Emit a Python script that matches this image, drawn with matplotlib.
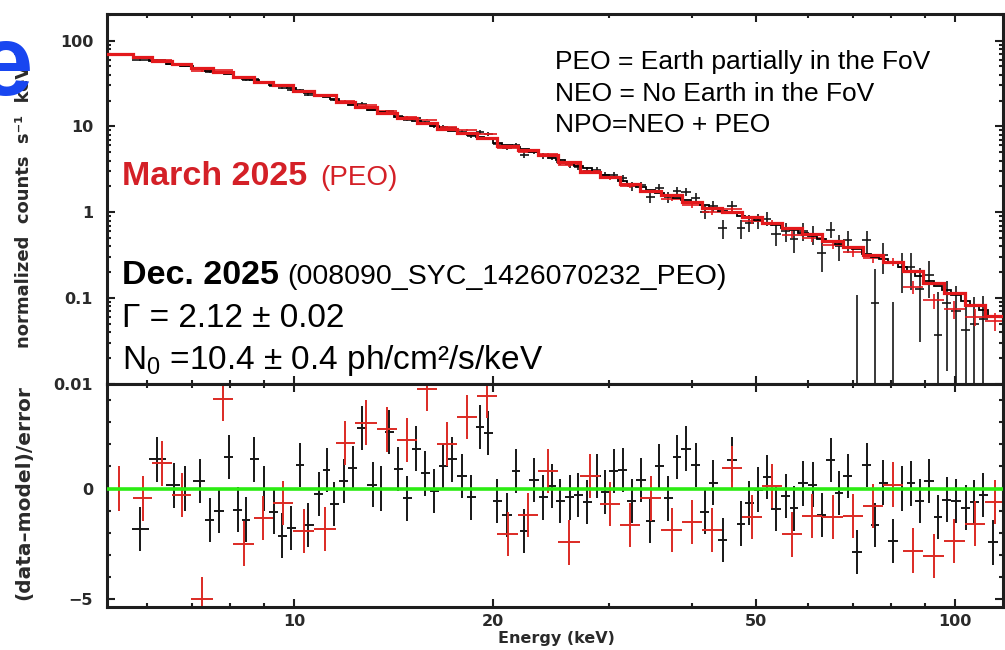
import numpy as np
import matplotlib.pyplot as plt
from matplotlib.ticker import FixedLocator, LogLocator, MultipleLocator, FuncFormatter, NullFormatter

plt.rcParams['font.family'] = ['Liberation Sans', 'DejaVu Sans']
plt.rcParams['mathtext.default'] = 'regular'

# --- Dec. 2025 spectrum (black): bin energies (keV), folded model, residuals, relative errors
black_energy = [5.85, 6.21, 6.59, 6.84, 7.21, 7.46, 7.70, 7.97, 8.23, 8.46,
                8.70, 9.01, 9.33, 9.59, 9.90, 10.21, 10.50, 10.91, 11.22, 11.49,
                11.90, 12.28, 12.67, 13.17, 13.54, 13.92, 14.37, 14.83, 15.30, 15.79,
                16.28, 16.81, 17.34, 17.96, 18.53, 19.12, 19.66, 20.28, 21.00, 21.68,
                22.28, 23.07, 23.81, 24.57, 25.26, 26.16, 26.90, 27.75, 28.73, 29.54,
                30.48, 31.45, 32.45, 33.50, 34.56, 35.67, 36.80, 37.97, 39.17, 40.56,
                41.86, 43.04, 44.57, 45.98, 47.46, 48.80, 50.35, 51.95, 53.60, 55.50,
                57.07, 58.89, 60.97, 62.91, 64.92, 66.76, 68.88, 71.08, 73.61, 75.68,
                77.85, 80.60, 83.16, 85.80, 88.51, 91.35, 94.25, 97.25, 100.35, 103.9,
                106.8, 110.3, 114.2]
black_model = [62.5, 57.6, 53.6, 50.9, 46.6, 44.5, 42.7, 40.4, 38.0, 36.1,
               34.4, 32.1, 30.7, 29.6, 27.9, 25.8, 24.7, 23.2, 22.1, 20.7,
               18.9, 17.8, 16.8, 15.5, 14.6, 13.8, 12.9, 12.2, 11.5, 10.8,
               10.1, 9.45, 8.91, 8.39, 7.95, 7.52, 7.12, 6.38, 6.10, 5.70,
               5.40, 5.01, 4.66, 4.32, 4.05, 3.73, 3.48, 3.24, 2.95, 2.74,
               2.52, 2.31, 2.13, 1.97, 1.83, 1.70, 1.59, 1.48, 1.38, 1.28,
               1.20, 1.125, 1.047, 0.979, 0.915, 0.862, 0.806, 0.758, 0.707, 0.657,
               0.618, 0.575, 0.530, 0.493, 0.458, 0.431, 0.398, 0.369, 0.331, 0.305,
               0.282, 0.254, 0.228, 0.204, 0.180, 0.157, 0.139, 0.123, 0.108, 0.0938,
               0.0824, 0.0720, 0.0626]
black_resid = [-1.83, 1.31, 0.14, 0.0, 0.35, -1.43, -1.0, 1.41, -0.95, -1.4,
               1.31, 0.0, -1.05, -2.12, -1.77, 1.07, -1.65, -0.26, 0.83, -0.69,
               0.35, 0.93, 2.73, 0.18, 0.0, 2.55, 0.87, -0.45, 1.8, 0.68,
               -0.1, 1.0, 1.31, 0.57, -0.4, 2.78, 2.5, -0.56, -1.2, 0.8,
               -1.92, 0.38, -0.4, 0.1, -0.56, -0.4, -0.3, -0.6, 0.57, -0.15,
               0.8, 0.83, -0.56, 0.38, -1.46, 1.0, -0.45, 1.43, 1.8, 1.05,
               -1.05, 0.27, -2.33, 1.3, -1.58, -0.65, -0.05, 0.53, -0.93, -0.35,
               -0.9, 0.23, 0.18, -1.2, 1.28, -0.2, 0.57, -2.85, 1.05, -1.65,
               0.27, -2.37, 0.0, 0.23, -0.56, 0.35, -1.28, -0.5, -0.56, -0.86,
               -0.6, -0.3, -2.43]
black_frac = [0.022, 0.022, 0.023, 0.023, 0.024, 0.024, 0.025, 0.025, 0.026, 0.026,
              0.027, 0.027, 0.028, 0.028, 0.029, 0.029, 0.030, 0.031, 0.032, 0.033,
              0.034, 0.035, 0.036, 0.037, 0.038, 0.039, 0.040, 0.042, 0.043, 0.045,
              0.046, 0.048, 0.050, 0.052, 0.054, 0.056, 0.058, 0.060, 0.063, 0.066,
              0.068, 0.071, 0.074, 0.077, 0.080, 0.084, 0.087, 0.091, 0.095, 0.099,
              0.10, 0.105, 0.11, 0.115, 0.12, 0.125, 0.13, 0.135, 0.14, 0.145,
              0.15, 0.155, 0.16, 0.17, 0.18, 0.19, 0.20, 0.21, 0.22, 0.23,
              0.24, 0.25, 0.26, 0.27, 0.29, 0.31, 0.34, 0.38, 0.41, 0.43,
              0.45, 0.47, 0.49, 0.51, 0.53, 0.55, 0.57, 0.59, 0.61, 0.63,
              0.65, 0.68, 0.70]

# --- March 2025 spectrum (red): bin edges (keV), folded model, residuals, relative errors
red_edges = [5.18, 5.71, 6.10, 6.54, 6.99, 7.54, 8.09, 8.70, 9.29, 9.97,
             10.72, 11.57, 12.37, 13.35, 14.32, 15.35, 16.46, 17.64, 18.92, 20.28,
             21.83, 23.40, 25.08, 27.08, 29.04, 31.13, 33.38, 35.92, 38.64, 41.43,
             44.42, 47.62, 51.05, 54.73, 58.68, 62.91, 67.72, 72.60, 77.85, 83.44,
             89.45, 96.25, 103.5, 111.0, 119.0]
red_model = [69.5, 63.6, 58.1, 53.1, 47.3, 43.2, 37.8, 33.0, 30.2, 26.1,
             23.1, 19.3, 16.8, 14.3, 12.5, 10.96, 9.42, 8.37, 7.40, 5.90,
             5.26, 4.60, 3.84, 2.93, 2.58, 2.15, 1.79, 1.57, 1.31, 1.125,
             1.019, 0.874, 0.744, 0.657, 0.559, 0.467, 0.390, 0.320, 0.2605, 0.2045,
             0.152, 0.1163, 0.0835, 0.0621]
red_resid = [0.0, -0.45, 1.13, -0.3, -5.0, 4.05, -2.48, -1.32, -0.65, -1.92,
             -1.83, 2.06, 2.97, 2.66, 2.18, 4.5, 2.0, 3.23, 4.17, -2.06,
             -1.2, 0.8, -2.43, 0.57, -0.7, -1.65, -0.45, -1.88, -1.5, -1.88,
             0.93, -1.28, 0.12, -2.07, -1.25, -1.28, -1.25, -0.8, 0.18, -2.8,
             -3.05, -2.37, -1.58, -0.6]
red_frac = [0.012, 0.012, 0.012, 0.013, 0.013, 0.013, 0.014, 0.014, 0.015, 0.015,
            0.016, 0.017, 0.018, 0.019, 0.020, 0.021, 0.022, 0.024, 0.025, 0.027,
            0.029, 0.031, 0.034, 0.037, 0.040, 0.043, 0.047, 0.051, 0.055, 0.060,
            0.065, 0.070, 0.075, 0.080, 0.085, 0.090, 0.097, 0.105, 0.113, 0.12,
            0.125, 0.15, 0.17, 0.21]

W, H = 1005, 650
def px(x, y):
    return x / W, 1 - y / H

def edges_from_centres(c):
    c = np.asarray(c)
    mid = np.sqrt(c[1:] * c[:-1])
    return np.concatenate([[c[0] ** 2 / mid[0]], mid, [c[-1] ** 2 / mid[-1]]])

BLK = '#161616'
RED = '#e3191c'
AXC = '#1e1e1e'

# black arrays
bE = np.array(black_energy)
be = edges_from_centres(bE)
bxerr = [bE - be[:-1], be[1:] - bE]
bm = np.array(black_model)
bsig = bm * np.array(black_frac)
bdat = bm + np.array(black_resid) * bsig

# red arrays
re = np.array(red_edges)
rE = np.sqrt(re[:-1] * re[1:])
rxerr = [rE - re[:-1], re[1:] - rE]
rm = np.array(red_model)
rsig = rm * np.array(red_frac)
rdat = rm + np.array(red_resid) * rsig

fig = plt.figure(figsize=(W / 100, H / 100), dpi=100)
ax1 = fig.add_axes([107 / W, 1 - 384 / H, 896 / W, 370 / H])
ax2 = fig.add_axes([107 / W, 1 - 607 / H, 896 / W, 223 / H], sharex=ax1)

ax1.set_xscale('log')
ax1.set_yscale('log')
ax1.set_xlim(5.213, 118.2)
ax1.set_ylim(0.01, 204)
ax2.set_ylim(-5.34, 4.71)

# upper panel: data + folded models
ax1.errorbar(bE, bdat, yerr=bsig, xerr=bxerr, fmt='none', ecolor=BLK, elinewidth=1.2, zorder=2)
ax1.errorbar(rE, rdat, yerr=rsig, xerr=rxerr, fmt='none', ecolor=RED, elinewidth=1.2, zorder=2)
ax1.stairs(bm, be, baseline=None, color='black', lw=1.3, zorder=3)
ax1.stairs(rm, re, baseline=None, color=RED, lw=2.3, zorder=4)

# lower panel: residuals
ax2.errorbar(bE, black_resid, yerr=1, xerr=bxerr, fmt='none', ecolor=BLK, elinewidth=1.4, zorder=2)
ax2.errorbar(rE, red_resid, yerr=1, xerr=rxerr, fmt='none', ecolor='#dc2a24', elinewidth=1.4, zorder=2)
ax2.axhline(0, color='#2bec12', lw=2.6, zorder=5)

tick_font = dict(family='DejaVu Sans', weight='bold', size=11.5)
for ax in (ax1, ax2):
    for s in ax.spines.values():
        s.set_linewidth(2.2)
        s.set_color(AXC)
    ax.tick_params(which='both', direction='in', top=True, right=True, width=1.5, color=AXC)
    ax.tick_params(which='major', length=6)
    ax.tick_params(which='minor', length=3.2)
    ax.xaxis.set_major_locator(FixedLocator([10, 20, 50, 100]))
    ax.xaxis.set_minor_locator(FixedLocator([6, 7, 8, 9, 30, 40, 60, 70, 80, 90]))
    ax.xaxis.set_minor_formatter(NullFormatter())

ax1.yaxis.set_major_locator(LogLocator(base=10, numticks=10))
ax1.yaxis.set_minor_locator(LogLocator(base=10, subs=np.arange(2, 10), numticks=10))
ax1.yaxis.set_minor_formatter(NullFormatter())
ax1.yaxis.set_major_formatter(FuncFormatter(lambda v, p: f'{v:g}'))
ax1.tick_params(axis='x', labelbottom=False)
ax1.tick_params(axis='y', pad=10)

ax2.yaxis.set_major_locator(MultipleLocator(5))
ax2.yaxis.set_minor_locator(MultipleLocator(1))
ax2.yaxis.set_major_formatter(FuncFormatter(lambda v, p: f'{v:g}'.replace('-', '\u2212')))
ax2.xaxis.set_major_formatter(FuncFormatter(lambda v, p: f'{v:g}'))
ax2.tick_params(axis='y', pad=10)
ax2.tick_params(axis='x', pad=5)

for lab in ax1.get_yticklabels() + ax2.get_yticklabels() + ax2.get_xticklabels():
    lab.set_fontproperties(tick_font)
    lab.set_color('#2a2a2a')

# axis titles
fig.text(*px(24, 348), 'normalized  counts  s\u207b\u00b9  keV\u207b\u00b9', rotation=90,
         ha='center', va='bottom', color='#2a2a2a', family='DejaVu Sans', weight='bold', size=13)
fig.text(*px(24, 493), '(data\u2013model)/error', rotation=90,
         ha='center', va='center', color='#2a2a2a', family='DejaVu Sans', weight='bold', size=14.5)
fig.text(*px(556, 639), 'Energy (keV)', ha='center', va='center',
         color='#2a2a2a', family='DejaVu Sans', weight='bold', size=11.5)
fig.text(*px(33, 95), 'e', ha='right', va='baseline', color='#1846f0',
         weight='bold', size=73, zorder=10)

# annotations
fig.text(*px(555, 69), 'PEO = Earth partially in the FoV', va='baseline', size=19)
fig.text(*px(555, 101), 'NEO = No Earth in the FoV', va='baseline', size=19)
fig.text(*px(555, 132.5), 'NPO=NEO + PEO', va='baseline', size=19)

fig.text(*px(122, 185), 'March 2025', va='baseline', size=24.5, weight='bold', color='#d42027')
fig.text(*px(320, 185), '(PEO)', va='baseline', size=20, color='#d42027')
fig.text(*px(122, 284), 'Dec. 2025', va='baseline', size=24.5, weight='bold', color='black')
fig.text(*px(287, 284), '(008090_SYC_1426070232_PEO)', va='baseline', size=20.5, color='black')
fig.text(*px(122, 327), '\u0393 = 2.12 \u00b1 0.02', va='baseline', size=24)
fig.text(*px(122, 369), 'N$_0$ =10.4 \u00b1 0.4 ph/cm\u00b2/s/keV', va='baseline', size=24)

fig.savefig('out.png', dpi=100)
